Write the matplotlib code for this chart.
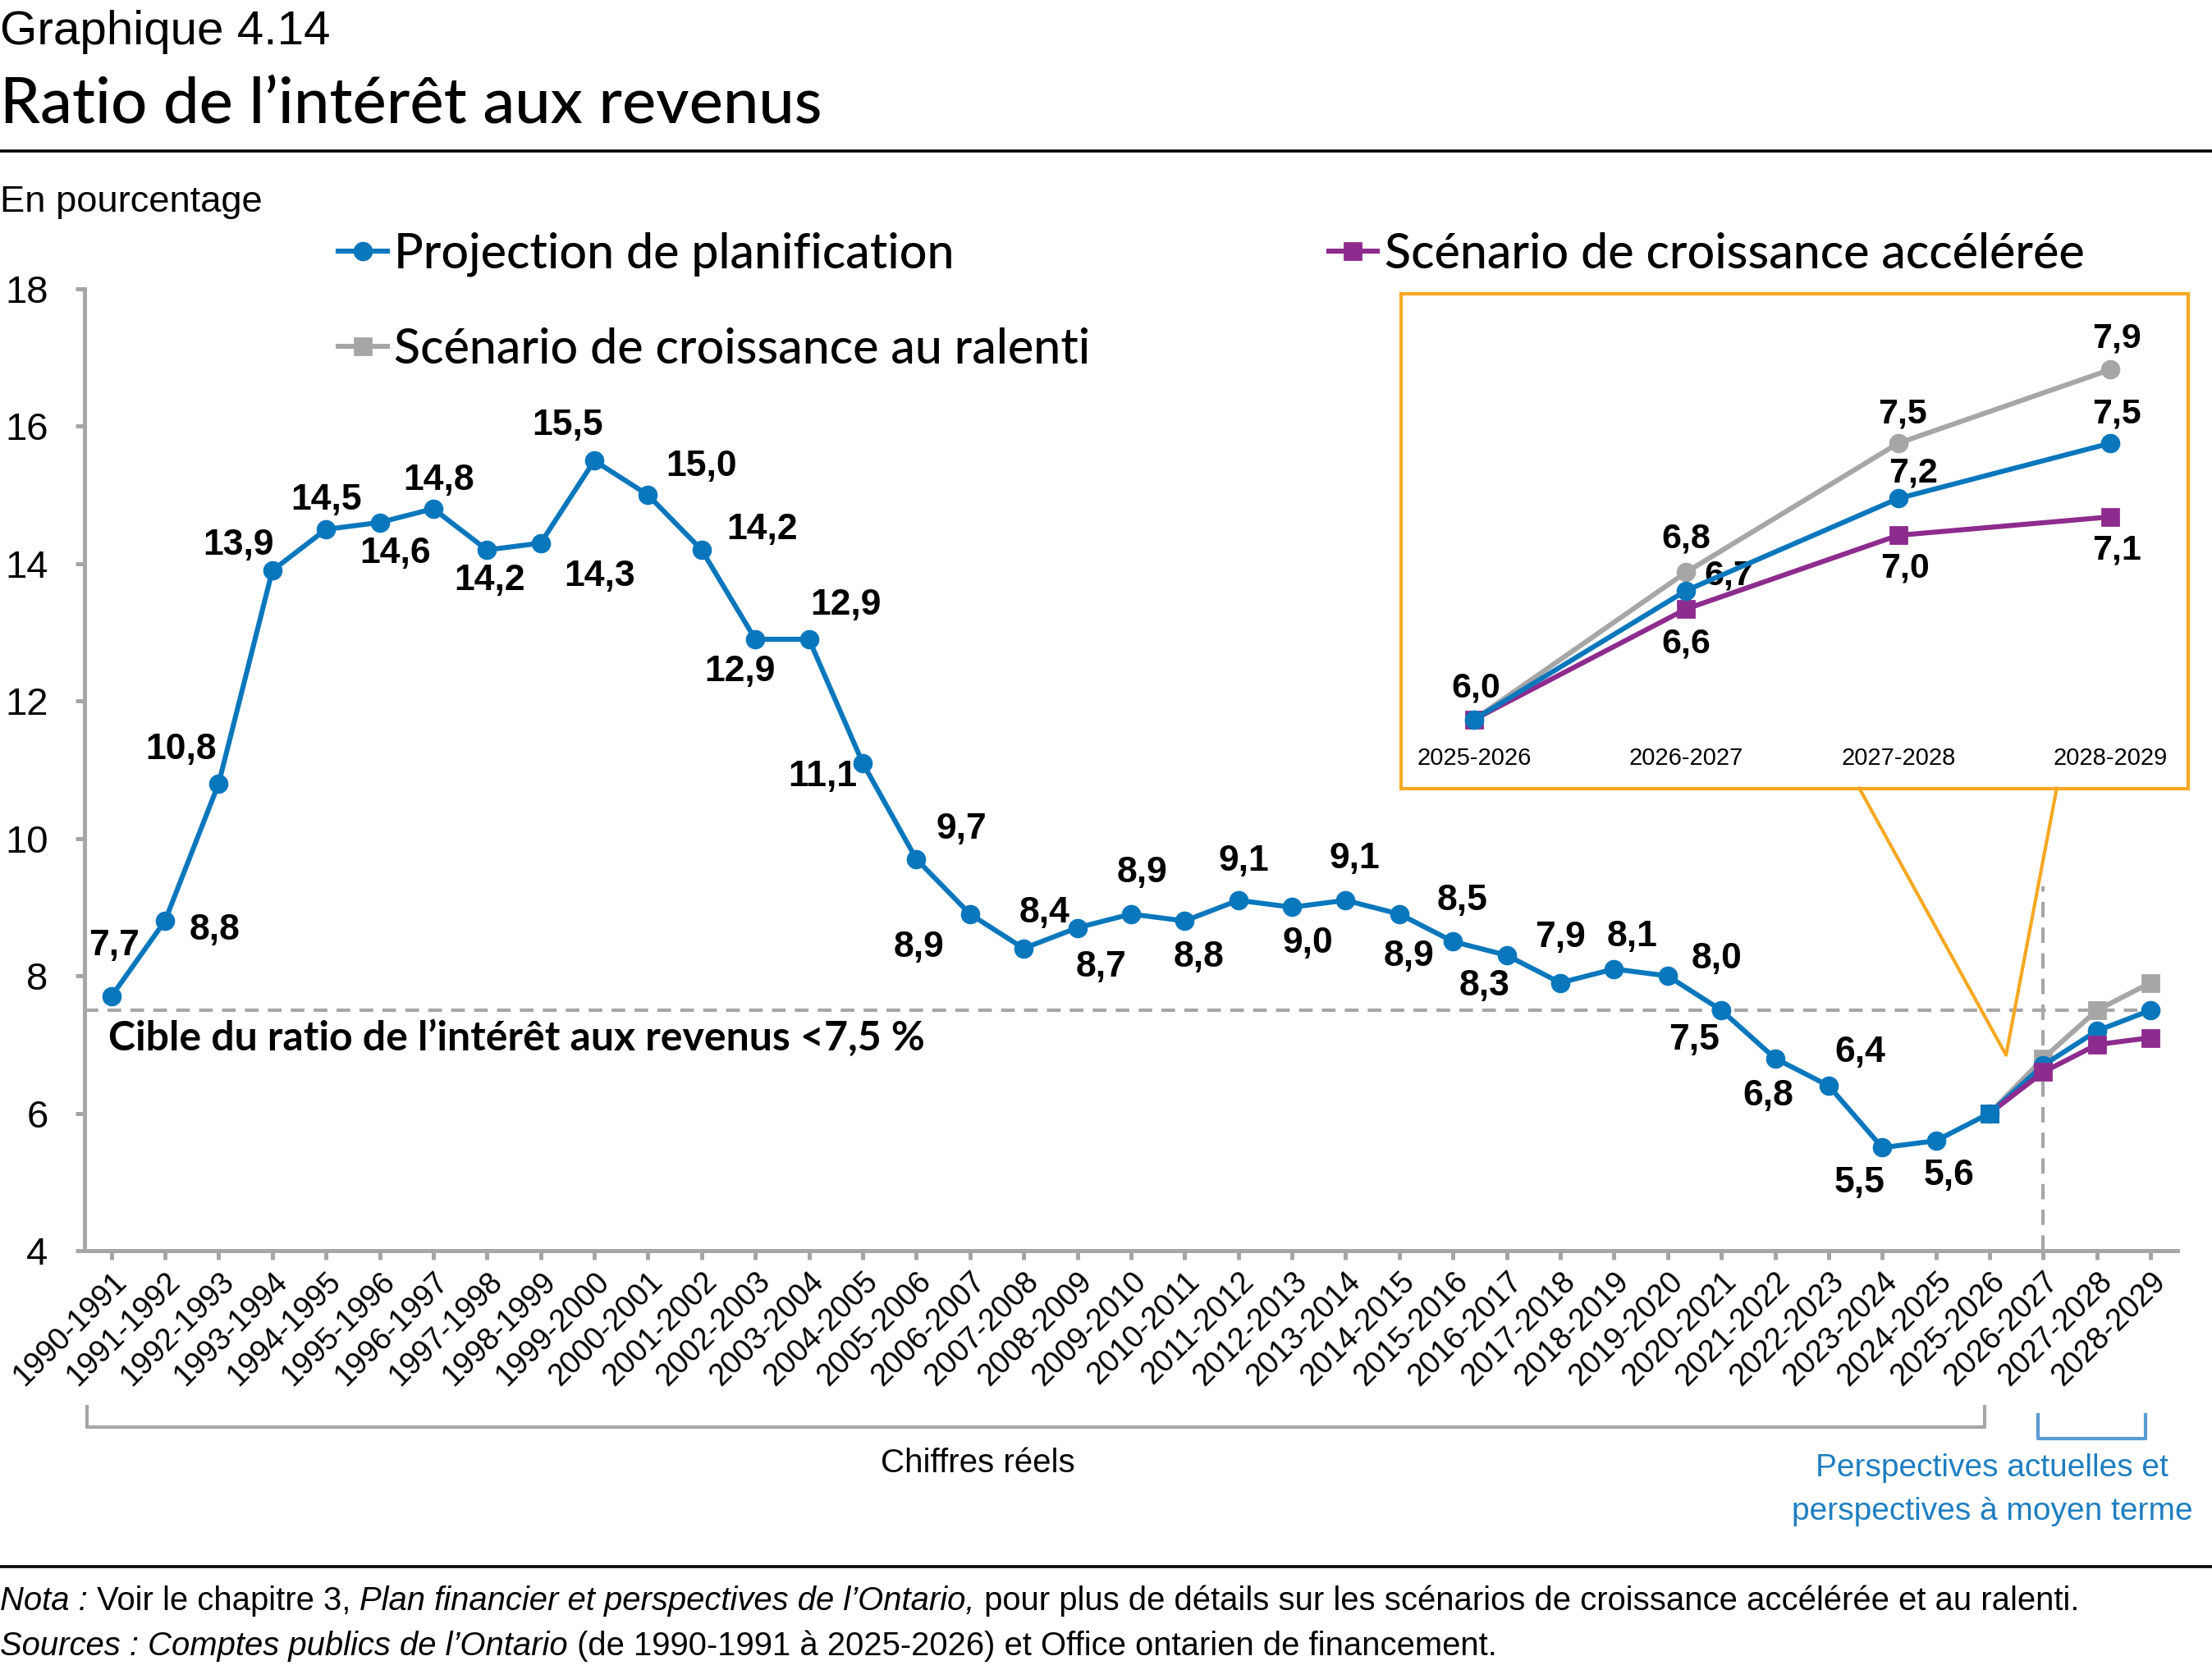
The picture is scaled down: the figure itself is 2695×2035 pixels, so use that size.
import matplotlib
matplotlib.use("Agg")
import matplotlib.pyplot as plt
from matplotlib.lines import Line2D
from matplotlib.text import Annotation
from matplotlib.transforms import blended_transform_factory

# ---- data ----
years = ["%d-%d" % (y, y + 1) for y in range(1990, 2029)]
planning = [7.7, 8.8, 10.8, 13.9, 14.5, 14.6, 14.8, 14.2, 14.3, 15.5,
            15.0, 14.2, 12.9, 12.9, 11.1, 9.7, 8.9, 8.4, 8.7, 8.9,
            8.8, 9.1, 9.0, 9.1, 8.9, 8.5, 8.3, 7.9, 8.1, 8.0,
            7.5, 6.8, 6.4, 5.5, 5.6, 6.0, 6.7, 7.2, 7.5]
outlook_years = ["2025-2026", "2026-2027", "2027-2028", "2028-2029"]
accelerated = [6.0, 6.6, 7.0, 7.1]
slow = [6.0, 6.8, 7.5, 7.9]
target = 7.5
last_actual = "2025-2026"
first_outlook = "2026-2027"

# label offsets (x in categories, y in %) for the labelled actual points
label_offsets = [(0.05, 0.74), (0.92, -0.14), (-0.7, 0.49), (-0.63, 0.37), (0.0, 0.43),
                 (0.29, -0.45), (0.1, 0.41), (0.05, -0.45), (1.1, -0.49), (-0.5, 0.51),
                 (1.0, 0.41), (1.13, 0.29), (-0.29, -0.47), (0.68, 0.49), (-0.74, -0.2),
                 (0.84, 0.43), (-0.95, -0.49), (0.39, 0.51), (0.45, -0.57), (0.2, 0.6),
                 (0.26, -0.53), (0.1, 0.57), (0.29, -0.53), (0.16, 0.6), (0.18, -0.62),
                 (0.18, 0.6), (-0.42, -0.45), (0.0, 0.66), (0.34, 0.47), (0.92, 0.25),
                 (-0.5, -0.43), (-0.13, -0.55), (0.58, 0.49), (-0.42, -0.51), (0.24, -0.51)]

BLUE = "#0A77BD"
PURPLE = "#8E2B8E"
GRAY = "#A6A6A6"
ORANGE = "#F6A823"
NARROW = ["Liberation Sans", "DejaVu Sans"]
SANS = ["Lato", "DejaVu Sans"]


def fmt(v):
    return ("%.1f" % v).replace(".", ",")


fig = plt.figure(figsize=(13.475, 10.175), dpi=200)
ax = fig.add_axes([0.0382, 0.2511, 0.9462, 0.5759])

x = list(range(len(years)))
i0 = years.index(last_actual)
xo = x[i0:]

ax.axhline(target, xmax=0.995, color=GRAY, lw=1.5, dashes=(4, 2.7), zorder=1)
ax.vlines(years.index(first_outlook), 4, 9.3, color=GRAY, lw=1.5, linestyles=(0, (4.5, 3)), zorder=1)

ax.plot(xo, slow, color=GRAY, lw=2.2, marker="s", ms=7.5, zorder=3)
ax.plot(x, planning, color=BLUE, lw=2.2, marker="o", ms=7.5, zorder=4)
ax.plot(xo, accelerated, color=PURPLE, lw=2.2, marker="s", ms=7.5, zorder=5)
ax.plot([x[i0]], [planning[i0]], color=BLUE, marker="s", ms=7.5, zorder=6, ls="none")

for i, (dx, dy) in enumerate(label_offsets):
    ax.text(x[i] + dx, planning[i] + dy, fmt(planning[i]), ha="center", va="center",
            family=NARROW, weight="bold", size=16)

ax.text(-0.05, 7.1, "Cible du ratio de l\u2019int\u00e9r\u00eat aux revenus <7,5 %", ha="left",
        va="center", family=SANS, weight="bold", size=18)

ax.set_xlim(-0.5, 38.5)
ax.set_ylim(4, 18)
ax.set_yticks(range(4, 19, 2))
ax.set_xticks(x)
ax.set_xticklabels(years, rotation=45, ha="right", rotation_mode="anchor", family=NARROW, size=13.5)
for t in ax.get_yticklabels():
    t.set_family(NARROW)
    t.set_size(17)
ax.tick_params(axis="both", color=GRAY, width=1.8, length=4)
ax.tick_params(axis="y", pad=12)
ax.tick_params(axis="x", pad=3)
for s in ["top", "right"]:
    ax.spines[s].set_visible(False)
for s in ["left", "bottom"]:
    ax.spines[s].set_color(GRAY)
    ax.spines[s].set_linewidth(1.8)

# ---- inset ----
axi = fig.add_axes([0.6333, 0.5279, 0.3559, 0.2964])
xi = list(range(len(outlook_years)))
axi.plot(xi, slow, color=GRAY, lw=2.2, marker="o", ms=7.5, zorder=3)
axi.plot(xi, accelerated, color=PURPLE, lw=2.2, marker="s", ms=7.5, zorder=4)
axi.plot(xi, planning[i0:], color=BLUE, lw=2.2, marker="o", ms=7.5, zorder=5)
axi.set_xlim(-0.346, 3.367)
axi.set_ylim(5.625, 8.314)
axi.set_xticks([])
axi.set_yticks([])
for s in axi.spines.values():
    s.set_color(ORANGE)
    s.set_linewidth(1.5)
for j, lab in enumerate(outlook_years):
    axi.text(xi[j], 5.79, lab, ha="center", va="center", family=NARROW, size=10.5)
plan_off = [(0.01, 0.17), (0.2, 0.08), (0.07, 0.14), (0.03, 0.16)]
slow_off = [None, (0.0, 0.18), (0.02, 0.16), (0.03, 0.17)]
acc_off = [None, (0.0, -0.19), (0.03, -0.18), (0.03, -0.18)]
for vals, offs in [(planning[i0:], plan_off), (slow, slow_off), (accelerated, acc_off)]:
    for j, off in enumerate(offs):
        if off is None:
            continue
        axi.text(xi[j] + off[0], vals[j] + off[1], fmt(vals[j]), ha="center", va="center",
                 family=NARROW, weight="bold", size=15.5)

# callout pointer
fig.add_artist(Line2D([0.8406, 0.9069, 0.9298], [0.5279, 0.3682, 0.5279],
                      transform=fig.transFigure, color=ORANGE, lw=1.5))

# ---- legend ----
handles = [Line2D([], [], color=BLUE, marker="o", lw=2.2, ms=7.5),
           Line2D([], [], color=GRAY, marker="s", lw=2.2, ms=7.5),
           Line2D([], [], color=PURPLE, marker="s", lw=2.2, ms=7.5)]
labels = ["Projection de planification", "Sc\u00e9nario de croissance au ralenti",
          "Sc\u00e9nario de croissance acc\u00e9l\u00e9r\u00e9e"]
fig.legend(handles, labels, ncol=2, loc="upper left", bbox_to_anchor=(0.153, 0.861),
           frameon=False, handlelength=1.0, handletextpad=0.15, columnspacing=4.9,
           labelspacing=1.04, borderpad=0, borderaxespad=0,
           prop={"family": SANS, "size": 21.3, "weight": "medium"})

# ---- titles ----
fig.text(0.0, 0.981, "Graphique 4.14", ha="left", va="center", family=NARROW, size=21)
fig.text(0.0, 0.937, "Ratio de l\u2019int\u00e9r\u00eat aux revenus", ha="left", va="center",
         family=SANS, size=28, weight="medium")
fig.add_artist(Line2D([0, 1], [0.9096, 0.9096], transform=fig.transFigure, color="black", lw=1.3))
fig.text(0.0, 0.879, "En pourcentage", ha="left", va="center", family=NARROW, size=16.3)

# ---- brackets ----
tb = blended_transform_factory(ax.transData, fig.transFigure)
fig.add_artist(Line2D([-0.45, -0.45, 34.9, 34.9], [0.1579, 0.1453, 0.1453, 0.1579],
                      transform=tb, color=GRAY, lw=1.5))
fig.add_artist(Line2D([35.9, 35.9, 37.9, 37.9], [0.1529, 0.1385, 0.1385, 0.1529],
                      transform=tb, color="#5B9BD5", lw=1.5))
fig.text(0.442, 0.124, "Chiffres r\u00e9els", ha="center", va="center", family=NARROW, size=14.5)
fig.text(0.9005, 0.108, "Perspectives actuelles et\nperspectives \u00e0 moyen terme", ha="center",
         va="center", family=NARROW, size=14, color="#1F7EC1", linespacing=1.6)

# ---- footer ----
fig.add_artist(Line2D([0, 1], [0.0617, 0.0617], transform=fig.transFigure, color="black", lw=1.3))


def rich_line(y, parts):
    prev = fig.text(0.0, y, parts[0][0], style=parts[0][1], ha="left", va="center",
                    family=NARROW, size=14.4)
    for txt, st in parts[1:]:
        prev = fig.add_artist(Annotation(txt, xy=(1, 0), xycoords=prev, ha="left", va="bottom",
                                         style=st, family=NARROW, size=14.4))


rich_line(0.0414, [("Nota :", "italic"), (" Voir le chapitre 3, ", "normal"),
                   ("Plan financier et perspectives de l\u2019Ontario,", "italic"),
                   (" pour plus de d\u00e9tails sur les sc\u00e9narios de croissance acc\u00e9l\u00e9r\u00e9e et au ralenti.",
                    "normal")])
rich_line(0.0144, [("Sources : Comptes publics de l\u2019Ontario", "italic"),
                   (" (de 1990-1991 \u00e0 2025-2026) et Office ontarien de financement.", "normal")])

fig.savefig("out.png", dpi=200)
